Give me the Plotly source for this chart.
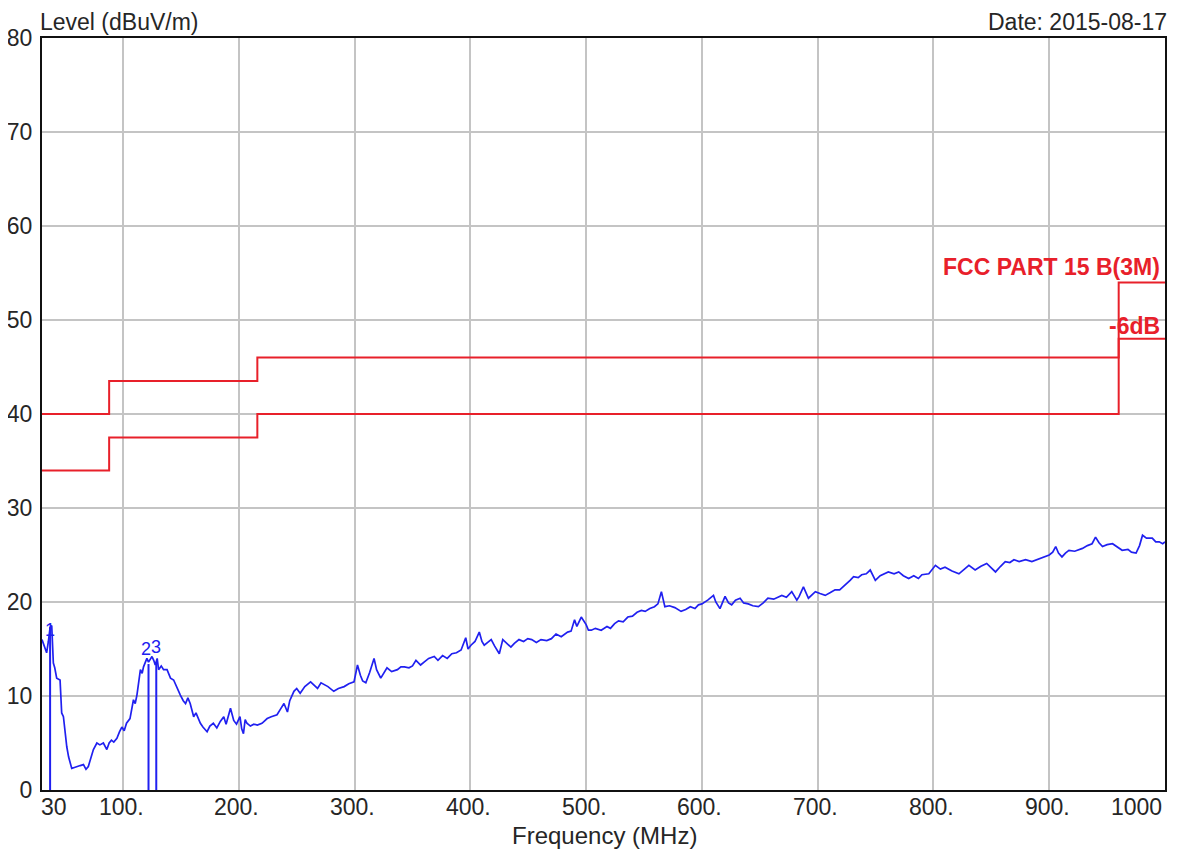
import plotly.graph_objects as go

# ---- data ----
freq = [30, 32, 34, 35.5, 37, 38.4, 39.8, 41, 42.7, 45.6, 47, 48.5, 50, 51.4, 53, 55.7, 58, 60, 63, 65.8,
        68, 70, 72, 74.4, 77.4, 80, 83, 86, 88, 90, 92, 94.7, 97, 99, 101, 103, 106, 109, 110.5, 112,
        115, 116.5, 117.7, 120.6, 122, 125, 126.5, 127.8, 129.5, 130.7, 133, 135, 138, 141, 143.7, 146,
        149.5, 152, 154, 156, 158, 161, 163, 166.8, 169, 172.6, 175, 178, 181, 184, 187, 189, 192.8,
        195.6, 198, 201, 202.5, 204, 205.5, 207, 210, 213, 216, 220, 224.5, 228, 233, 236, 239, 242,
        244, 247.6, 250, 253, 257, 262, 265, 268, 271, 273.6, 277, 282, 286, 291, 295, 299.5, 302.5,
        305, 307, 309.7, 313, 316.8, 319, 322.6, 325, 328, 332, 337, 340, 343, 347, 350, 353, 357, 360,
        364, 368.8, 372, 376, 380, 384, 388, 392, 396, 398, 400.5, 404, 407.7, 410, 412, 415, 418, 421,
        425, 428, 432, 435, 438, 442, 446, 449.6, 453, 457, 461, 466, 470, 474, 478.5, 484, 487, 490,
        492, 495.8, 500, 502, 504.5, 508, 513, 518, 521, 524.6, 528, 532, 536, 540, 544, 547.7, 551,
        555, 559, 562, 565, 568, 572, 576.6, 582, 586, 590, 594, 597, 600, 605, 610, 612, 615.6, 620,
        623, 625.7, 629, 633, 636, 640, 644, 648.8, 653, 657, 662, 669, 673, 677.6, 682, 684, 687.7,
        692, 695, 698, 702, 706.5, 711, 715, 719, 724, 728, 731, 735, 738, 742, 745.4, 749.8, 754, 757,
        761, 766, 770, 774, 778.6, 783, 787, 790, 796, 801.7, 806, 810, 816, 822, 826, 830.6, 836, 841,
        846, 850, 853.6, 858, 862, 866, 869.5, 874, 879.6, 885, 891, 895, 900, 903, 905.6, 908, 911,
        914, 917, 922, 928.7, 933, 937, 940, 943, 946, 950, 954.7, 959, 963, 968, 971, 975, 978, 980.6,
        984, 989, 992, 995, 998, 1000]
level = [16.0, 15.3, 14.6, 15.8, 17.3, 17.5, 13.5, 13.0, 11.9, 11.7, 8.2, 7.8, 6.0, 4.6, 3.5, 2.3, 2.4, 2.5, 2.6, 2.7,
         2.2, 2.5, 3.4, 4.3, 5.0, 4.8, 5.0, 4.3, 5.0, 5.3, 5.1, 5.5, 6.2, 6.7, 6.3, 7.1, 7.6, 9.6, 9.2, 10.1,
         12.8, 12.4, 13.1, 14.0, 13.6, 14.2, 13.8, 13.3, 14.0, 12.8, 13.2, 12.8, 12.8, 11.9, 11.7, 11.0,
         10.1, 9.5, 9.2, 9.8, 9.2, 7.8, 8.2, 7.1, 6.7, 6.2, 6.8, 7.1, 6.6, 7.3, 7.8, 7.0, 8.7,
         7.4, 7.0, 7.8, 6.5, 6.0, 7.5, 7.1, 6.8, 7.0, 6.9, 7.1, 7.6, 7.8, 8.0, 8.6, 9.2, 8.3,
         9.5, 10.5, 10.8, 10.3, 11.0, 11.5, 11.2, 10.8, 11.4, 11.2, 11.0, 10.5, 10.8, 11.0, 11.3, 11.5, 13.3,
         12.2, 11.6, 11.4, 12.5, 14.0, 12.8, 11.9, 12.4, 13.0, 12.6, 12.8, 13.1, 13.1, 13.0, 13.2, 13.8, 13.3, 13.6,
         14.0, 14.2, 13.8, 14.3, 14.0, 14.5, 14.6, 14.9, 16.2, 15.0, 15.4, 15.8, 16.8, 15.8, 15.4, 15.7, 16.0, 15.3,
         14.5, 16.0, 15.6, 15.2, 15.6, 16.0, 15.8, 16.1, 16.0, 15.7, 16.0, 15.9, 16.1, 16.6, 16.3, 16.8, 16.9, 18.1,
         17.4, 18.4, 17.6, 17.0, 17.0, 17.2, 17.0, 17.4, 17.2, 17.7, 18.0, 17.9, 18.4, 18.5, 18.9, 19.1, 19.0,
         19.3, 19.5, 19.8, 21.1, 19.5, 19.6, 19.4, 19.0, 19.2, 19.5, 19.3, 19.7, 19.8, 20.2, 20.7, 20.0, 19.3, 20.6,
         19.9, 19.7, 20.2, 20.4, 19.9, 19.8, 19.6, 19.5, 19.9, 20.4, 20.3, 20.7, 20.5, 21.1, 20.2, 20.6, 21.6,
         20.4, 20.8, 21.1, 20.9, 20.7, 21.0, 21.3, 21.3, 21.8, 22.3, 22.7, 22.6, 22.9, 23.0, 23.4, 22.3, 22.8, 23.0,
         23.2, 23.0, 23.2, 22.8, 22.5, 22.8, 22.5, 22.9, 23.0, 23.9, 23.5, 23.7, 23.3, 23.0, 23.4, 23.9, 23.4, 23.8,
         24.1, 23.6, 23.2, 23.8, 24.3, 24.2, 24.5, 24.3, 24.5, 24.3, 24.6, 24.8, 25.0, 25.3, 25.9, 25.2, 24.8,
         25.2, 25.5, 25.4, 25.7, 26.0, 26.2, 26.9, 26.3, 25.9, 26.1, 26.2, 25.8, 25.5, 25.6, 25.3, 25.2, 26.0, 27.1,
         26.8, 26.8, 26.4, 26.4, 26.2, 26.4]

limit_freq = [30, 88, 216, 960, 1000]
limit_level = [40, 43.5, 46, 54, 54]
margin_level = [34, 37.5, 40, 48, 48]

marker_freq = [37, 122, 128.7]
marker_level = [17.3, 13.4, 13.6]
marker_label = ["1", "2", "3"]
marker_label_freq = [37, 120, 128.7]
marker_label_level = [17.0, 15.0, 15.2]

x_tickvals = [30, 100, 200, 300, 400, 500, 600, 700, 800, 900, 1000]
x_ticktext = ["30", "100.", "200.", "300.", "400.", "500.", "600.", "700.", "800.", "900.", "1000"]
y_tickvals = [0, 10, 20, 30, 40, 50, 60, 70, 80]

RED = "#e8202a"
BLUE = "#2020f0"
FONT = "Liberation Sans"
TXT = "#262626"

fig = go.Figure()

fig.add_trace(go.Scatter(x=limit_freq, y=limit_level, mode="lines", line=dict(color=RED, width=2, shape="hv"),
                         hoverinfo="skip", showlegend=False))
fig.add_trace(go.Scatter(x=limit_freq, y=margin_level, mode="lines", line=dict(color=RED, width=2, shape="hv"),
                         hoverinfo="skip", showlegend=False))

fig.add_trace(go.Scatter(x=freq, y=level, mode="lines", line=dict(color=BLUE, width=1.7),
                         showlegend=False))

for f, l in zip(marker_freq, marker_level):
    fig.add_trace(go.Scatter(x=[f, f], y=[0, l], mode="lines", line=dict(color=BLUE, width=2),
                             showlegend=False, hoverinfo="skip"))

for f, l, t in zip(marker_label_freq, marker_label_level, marker_label):
    fig.add_annotation(x=f, y=l, text=t, showarrow=False, yanchor="middle", xanchor="center",
                       font=dict(family=FONT, size=18, color=BLUE))

# x tick labels as annotations (first left-aligned, last right-aligned)
for i, (v, t) in enumerate(zip(x_tickvals, x_ticktext)):
    if i == 0:
        anchor, dx = "left", -3
    elif i == len(x_tickvals) - 1:
        anchor, dx = "right", -1
    else:
        anchor, dx = "center", -2
    fig.add_annotation(x=v, y=0, yref="paper", text=t, showarrow=False, xanchor=anchor,
                       yanchor="top", yshift=-2, xshift=dx,
                       font=dict(family=FONT, size=23, color=TXT))

fig.add_annotation(x=0.5, xref="paper", y=0, yref="paper", text="Frequency (MHz)", showarrow=False,
                   xanchor="center", yanchor="middle", yshift=-45, xshift=1,
                   font=dict(family=FONT, size=24, color=TXT))
fig.add_annotation(x=0, xref="paper", y=1, yref="paper", text="Level (dBuV/m)", showarrow=False,
                   xanchor="left", yanchor="middle", yshift=16, xshift=-4,
                   font=dict(family=FONT, size=23, color=TXT))
fig.add_annotation(x=1, xref="paper", y=1, yref="paper", text="Date: 2015-08-17", showarrow=False,
                   xanchor="right", yanchor="middle", yshift=16, xshift=4,
                   font=dict(family=FONT, size=23, color=TXT))

fig.add_annotation(x=995, y=54, text="<b>FCC PART 15 B(3M)</b>", showarrow=False, xanchor="right",
                   yanchor="bottom", yshift=0, xshift=3, font=dict(family=FONT, size=23, color=RED))
fig.add_annotation(x=995, y=48, text="<b>-6dB</b>", showarrow=False, xanchor="right",
                   yanchor="bottom", yshift=-2, xshift=3, font=dict(family=FONT, size=23, color=RED))

fig.update_xaxes(range=[30, 1000], tickvals=x_tickvals, showticklabels=False, showgrid=True,
                 gridcolor="#c4c4c4", gridwidth=1.6, showline=True, linecolor="#111111", linewidth=2,
                 mirror=True, zeroline=False, ticks="", automargin=False)
fig.update_yaxes(range=[0, 80], tickvals=y_tickvals, showgrid=True, gridcolor="#c4c4c4", gridwidth=1.6,
                 showline=True, linecolor="#111111", linewidth=2, mirror=True, zeroline=False, ticks="",
                 tickfont=dict(family=FONT, size=23, color=TXT), automargin=False, ticklabelstandoff=3)

fig.update_layout(width=1186, height=844, margin=dict(l=34, r=29, t=30, b=62),
                  paper_bgcolor="white", plot_bgcolor="white", font=dict(family=FONT))

fig.write_html("out.html")
